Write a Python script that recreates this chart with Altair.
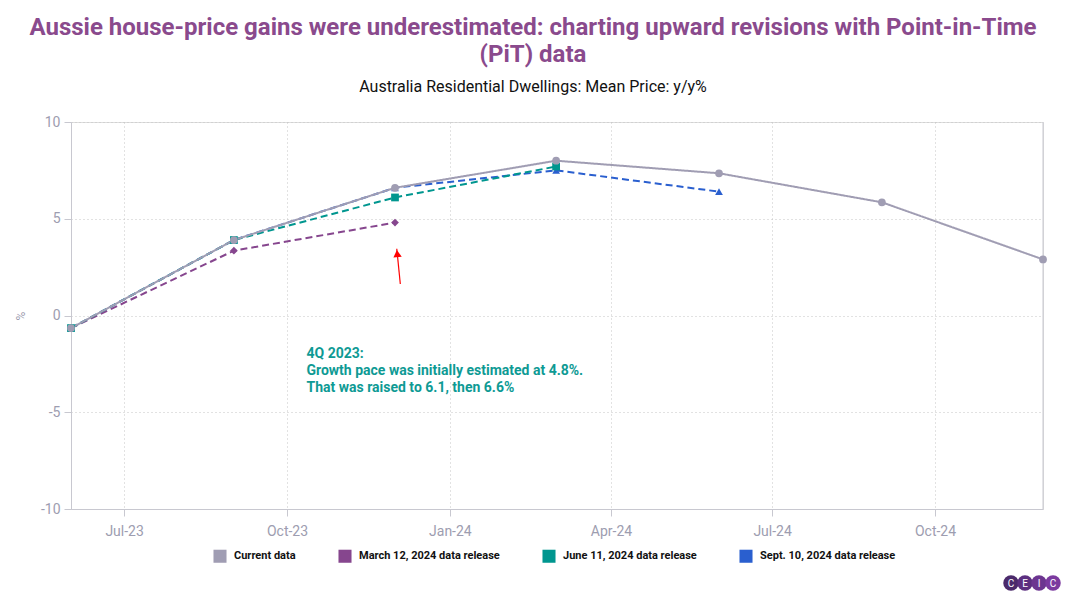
import altair as alt
import pandas as pd

dates = ["2023-06-01T00:00:00", "2023-09-01T00:00:00", "2023-12-01T00:00:00",
         "2024-03-01T00:00:00", "2024-06-01T00:00:00", "2024-09-01T00:00:00",
         "2024-12-01T00:00:00"]
series_names = ["Current data", "March 12, 2024 data release",
                "June 11, 2024 data release", "Sept. 10, 2024 data release"]
current = [-0.65, 3.9, 6.6, 8.0, 7.35, 5.85, 2.9]
march = [-0.65, 3.35, 4.8]
june = [-0.65, 3.9, 6.1, 7.7]
sept = [-0.65, 3.9, 6.6, 7.5, 6.4]
colors = ["#a09db3", "#86468e", "#00968f", "#2a5fcf"]
shapes = ["circle", "diamond", "square", "triangle-up"]
dashes = [[1, 0], [7, 4], [7, 4], [7, 4]]

note_text = ["4Q 2023:", "Growth pace was initially estimated at 4.8%.",
             "That was raised to 6.1, then 6.6%"]
note_date = "2023-10-12T00:00:00"
note_value = -2.2
arrow_dates = ["2023-12-04T00:00:00", "2023-12-02T00:00:00"]
arrow_values = [1.63, 3.45]
arrow_head_value = 3.2
arrow_head_date = "2023-12-02T06:00:00"

logo_letters = ["C", "E", "I", "C"]
logo_colors = ["#4b2a6b", "#5c2f80", "#6c3590", "#7b3a9f"]

rows = []
order = [(sept, 3), (march, 1), (june, 2), (current, 0)]
for vals, idx in order:
    for d, v in zip(dates, vals):
        rows.append({"date": d, "value": v, "series": series_names[idx]})
df = pd.DataFrame(rows)

x_enc = alt.X("date:T", title=None,
              scale=alt.Scale(domain=[alt.DateTime(year=2023, month=6, date=1),
                                      alt.DateTime(year=2024, month=12, date=1)]),
              axis=alt.Axis(format="%b-%y",
                            values=[alt.DateTime(year=2023, month=7, date=1),
                                    alt.DateTime(year=2023, month=10, date=1),
                                    alt.DateTime(year=2024, month=1, date=1),
                                    alt.DateTime(year=2024, month=4, date=1),
                                    alt.DateTime(year=2024, month=7, date=1),
                                    alt.DateTime(year=2024, month=10, date=1)],
                            grid=True, gridDash=[1, 3], gridColor="#c4c4c4",
                            domainColor="#c8c8d0", tickColor="#c8c8d0", tickSize=7,
                            labelColor="#9d9db0", labelFontSize=14, labelFont="Roboto",
                            labelPadding=8))
y_enc = alt.Y("value:Q", title="%",
              scale=alt.Scale(domain=[-10, 10], nice=False),
              axis=alt.Axis(values=[-10, -5, 0, 5, 10], grid=True, gridDash=[1, 3],
                            gridColor="#c4c4c4", domainColor="#c8c8d0",
                            labelExpr="'' + datum.value",
                            tickColor="#c8c8d0", tickSize=7, labelColor="#9d9db0",
                            labelFontSize=14, labelFont="Roboto", labelPadding=4,
                            titleColor="#9d9db0", titleFontSize=12, titleFont="Roboto",
                            titleFontWeight="normal", titlePadding=13))

color_scale = alt.Scale(domain=series_names, range=colors)

lines = alt.Chart(df).mark_line(strokeWidth=2).encode(
    x=x_enc, y=y_enc,
    color=alt.Color("series:N", scale=color_scale, sort=series_names,
                    legend=alt.Legend(title=None, orient="none", legendX=142, legendY=427,
                                      direction="horizontal", symbolType="square",
                                      symbolSize=170, symbolStrokeWidth=0,
                                      labelFont="Roboto", labelFontSize=11,
                                      labelFontWeight="bold", labelColor="#111111",
                                      columnPadding=42, labelOffset=7, padding=0)),
    strokeDash=alt.StrokeDash("series:N", scale=alt.Scale(domain=series_names, range=dashes),
                              legend=None),
    detail="series:N",
)

points = alt.Chart(df).mark_point(filled=True, opacity=1, size=60).encode(
    x="date:T", y="value:Q",
    color=alt.Color("series:N", scale=color_scale, legend=None),
    shape=alt.Shape("series:N", scale=alt.Scale(domain=series_names, range=shapes),
                    legend=None),
)

note_df = pd.DataFrame({"date": [note_date], "value": [note_value], "text": [note_text]})
note = alt.Chart(note_df).mark_text(align="left", baseline="alphabetic", fontSize=14,
                                    font="Roboto", fontWeight="bold", color="#0e9a94",
                                    lineHeight=17).encode(
    x="date:T", y="value:Q", text="text")

arrow_df = pd.DataFrame({"date": arrow_dates, "value": arrow_values})
arrow = alt.Chart(arrow_df).mark_line(color="#ff0000", strokeWidth=1.2).encode(
    x="date:T", y="value:Q")
head_df = pd.DataFrame({"date": [arrow_head_date], "value": [arrow_head_value]})
head = alt.Chart(head_df).mark_point(shape="triangle-up", filled=True, color="#ff0000",
                                     opacity=1, size=70, angle=354).encode(
    x="date:T", y="value:Q")

frame = alt.Chart(pd.DataFrame({"a": [0]})).mark_rule(color="#c8c8d0").encode(
    x=alt.value(972), y=alt.value(0), y2=alt.value(387))

logo_df = pd.DataFrame({"letter": logo_letters, "c": logo_colors, "i": [0, 1, 2, 3]})
logo_circles = alt.Chart(logo_df).mark_circle(size=240, opacity=1).encode(
    x=alt.X("i:Q", scale=alt.Scale(domain=[0, 3], range=[940, 982]), axis=None),
    y=alt.value(461),
    color=alt.Color("c:N", scale=None),
)
logo_text = alt.Chart(logo_df).mark_text(color="white", fontSize=10, font="Roboto",
                                         fontWeight="normal", baseline="middle").encode(
    x=alt.X("i:Q", scale=alt.Scale(domain=[0, 3], range=[940, 982]), axis=None),
    y=alt.value(461.5), text="letter:N")

logo = alt.layer(logo_circles, logo_text)

chart = alt.layer(frame, lines, points, note, arrow, head).resolve_scale(color="shared")
chart = alt.layer(chart, logo).resolve_scale(x="independent", color="independent")

chart = chart.properties(
    width=972, height=387,
    autosize=alt.AutoSizeParams(type="none"),
    padding={"left": 63, "top": 114, "right": 21, "bottom": 86},
    title=alt.Title(
        text=["Aussie house-price gains were underestimated: charting upward revisions with Point-in-Time",
              "(PiT) data"],
        subtitle="Australia Residential Dwellings: Mean Price: y/y%",
        anchor="middle", dx=-24, offset=20, font="Roboto", fontSize=24,
        fontWeight="bold", color="#8a4a8d", lineHeight=27,
        subtitleFont="Roboto", subtitleFontSize=16, subtitleColor="#111111",
        subtitlePadding=12),
).configure_view(stroke=None).configure(background="white")

chart.save("out.html", embed_options={"renderer": "svg", "actions": False})
